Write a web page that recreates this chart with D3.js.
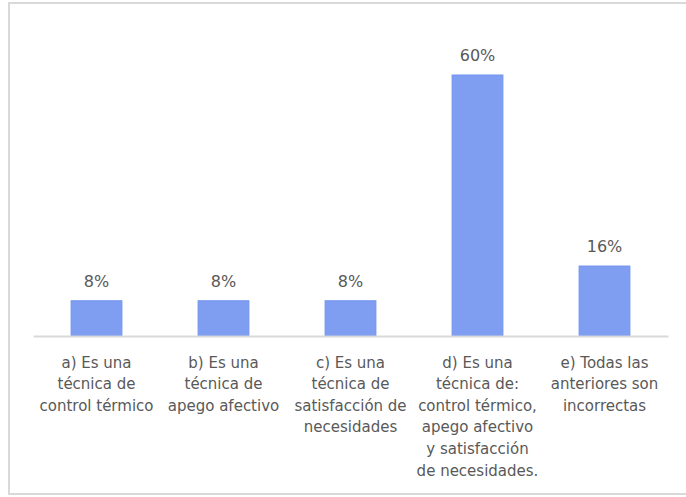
<!DOCTYPE html>
<html>
<head>
<meta charset="utf-8">
<script src="https://cdn.jsdelivr.net/npm/d3@7"></script>
<style>
  html, body { margin: 0; padding: 0; background: #fff; }
  svg { display: block; }
</style>
</head>
<body>
<svg id="chart" width="686" height="497"></svg>
<script>
// Answer options (each split into the lines shown under the axis)
const categories = ["a", "b", "c", "d", "e"];
const categoryLines = [
  ["a) Es una", "técnica de", "control térmico"],
  ["b) Es una", "técnica de", "apego afectivo"],
  ["c) Es una", "técnica de", "satisfacción de", "necesidades"],
  ["d) Es una", "técnica de:", "control térmico,", "apego afectivo", "y satisfacción", "de necesidades."],
  ["e) Todas las", "anteriores son", "incorrectas"]
];
// Share of responses per option, in percent
const values = [8, 8, 8, 60, 16];
const valueLabels = ["8%", "8%", "8%", "60%", "16%"];

const svg = d3.select("#chart");
const textColor = "#595959";
const font = "'DejaVu Sans', Verdana, sans-serif";

// Outer frame
svg.append("rect")
  .attr("x", 9).attr("y", 3)
  .attr("width", 684).attr("height", 491)
  .attr("fill", "#fff")
  .attr("stroke", "#d9d9d9")
  .attr("stroke-width", 2);

const plot = { left: 33, right: 668, top: 75, bottom: 335.5 };

const x = d3.scaleBand()
  .domain(categories)
  .range([plot.left, plot.right])
  .paddingInner(0.6)
  .paddingOuter(0.3);

const y = d3.scaleLinear()
  .domain([0, d3.max(values)])
  .range([plot.bottom, plot.top]);

const data = categories.map((c, i) => ({ c, v: values[i], label: valueLabels[i], lines: categoryLines[i] }));

// Bars
svg.append("g").selectAll("rect")
  .data(data)
  .join("rect")
  .attr("x", d => x(d.c))
  .attr("y", d => y(d.v))
  .attr("width", x.bandwidth())
  .attr("height", d => y(0) - y(d.v))
  .attr("fill", "#7f9ef2")
  .attr("stroke", "#7194ef")
  .attr("stroke-width", 1);

// Category axis (line only, labels drawn as multi-line text below)
const xAxis = svg.append("g")
  .attr("transform", `translate(0,${plot.bottom + 0.5})`)
  .call(d3.axisBottom(x).tickSize(0).tickFormat(""));
xAxis.select(".domain").attr("stroke", "#d9d9d9").attr("stroke-width", 2);

// Value labels above the bars
svg.append("g").selectAll("text")
  .data(data)
  .join("text")
  .attr("x", d => x(d.c) + x.bandwidth() / 2)
  .attr("y", d => y(d.v) - 14)
  .attr("text-anchor", "middle")
  .attr("font-family", font)
  .attr("font-size", 16)
  .attr("fill", textColor)
  .text(d => d.label);

// Category labels
const lineHeight = 21.6;
svg.append("g").selectAll("text")
  .data(data)
  .join("text")
  .attr("x", d => x(d.c) + x.bandwidth() / 2)
  .attr("y", plot.bottom + 32)
  .attr("text-anchor", "middle")
  .attr("font-family", font)
  .attr("font-size", 15)
  .attr("fill", textColor)
  .selectAll("tspan")
  .data(d => d.lines.map(t => ({ t, cx: x(d.c) + x.bandwidth() / 2 })))
  .join("tspan")
  .attr("x", d => d.cx)
  .attr("dy", (d, i) => i === 0 ? 0 : lineHeight)
  .text(d => d.t);
</script>
</body>
</html>
